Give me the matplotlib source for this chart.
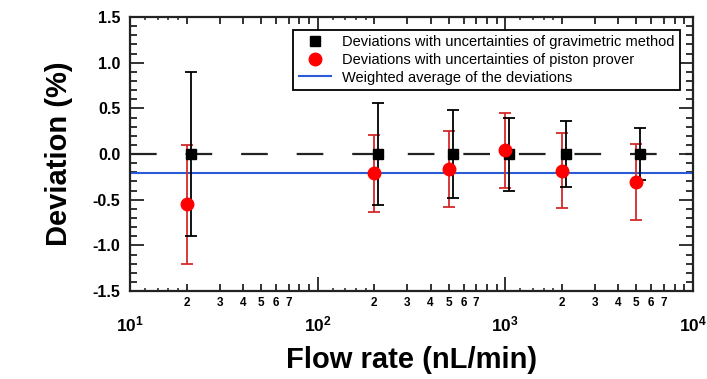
"""
Deviation of flow rate measurements: gravimetric method vs piston prover
"""

import matplotlib
matplotlib.use('Agg')
import matplotlib.pyplot as plt
import matplotlib.ticker as mticker
import numpy as np

plt.rcParams['font.family'] = ['Liberation Sans', 'DejaVu Sans']
plt.rcParams['mathtext.fontset'] = 'custom'
plt.rcParams['mathtext.rm'] = 'Liberation Sans'
plt.rcParams['mathtext.bf'] = 'Liberation Sans:bold'

# data
flow_piston = [20, 200, 500, 1000, 2000, 5000]
dev_piston = [-0.55, -0.21, -0.16, 0.04, -0.18, -0.31]
err_piston = [0.65, 0.42, 0.415, 0.415, 0.41, 0.415]

flow_grav = [21, 210, 525, 1050, 2100, 5250]
dev_grav = [0.0, 0.0, 0.0, 0.0, 0.0, 0.0]
err_grav = [0.9, 0.56, 0.48, 0.40, 0.36, 0.28]

weighted_avg = -0.21

x_range = (10, 1e4)
y_range = (-1.5, 1.5)
minor_labeled = [2, 3, 4, 5, 6, 7]
sub_minor = [1.2, 1.4, 1.6, 1.8]

axes_rect = [0.184, 0.232, 0.796, 0.723]
fig = plt.figure(figsize=(7.07, 3.79), dpi=100)

# overlay axes only for the extra short ticks between 10 and 20 of each decade
ax_sub = fig.add_axes(axes_rect)
ax_sub.set_xscale('log')
ax_sub.set_xlim(*x_range)
ax_sub.set_ylim(*y_range)
sub_pos = [s * 10 ** d for d in range(1, 4) for s in sub_minor]
ax_sub.xaxis.set_major_locator(mticker.FixedLocator(sub_pos))
ax_sub.xaxis.set_minor_locator(mticker.NullLocator())
ax_sub.tick_params(axis='x', which='both', direction='in', top=True, bottom=True,
                   labeltop=False, labelbottom=False, length=2.5, width=1.1,
                   color='#222222')
ax_sub.yaxis.set_visible(False)
ax_sub.patch.set_visible(False)
for sp in ax_sub.spines.values():
    sp.set_visible(False)

ax = fig.add_axes(axes_rect)
ax.patch.set_visible(False)

# reference line at zero
ax.axhline(0, color='#222222', linestyle=(0, (12, 13)), linewidth=1.6, zorder=1)
# weighted average line
avg_line = ax.axhline(weighted_avg, color='#2a5bd7', linewidth=1.5, zorder=2)

# red error bars (piston prover)
ax.errorbar(flow_piston, dev_piston, yerr=err_piston, fmt='none',
            ecolor='#d42a2a', elinewidth=1.3, capsize=4.3, capthick=1.3, zorder=3)
# black error bars and squares (gravimetric)
grav = ax.errorbar(flow_grav, dev_grav, yerr=err_grav, fmt='s', color='black',
                   markersize=7.5, ecolor='black', elinewidth=1.3, capsize=4.3,
                   capthick=1.3, zorder=4)
# red circles on top
piston_pts, = ax.plot(flow_piston, dev_piston, 'o', color='#ff0000',
                      markersize=9, zorder=5)

ax.set_xscale('log')
ax.set_xlim(*x_range)
ax.set_ylim(*y_range)

# x ticks
ax.xaxis.set_major_locator(mticker.LogLocator(base=10, numticks=10))
ax.xaxis.set_major_formatter(mticker.FuncFormatter(
    lambda v, p: r'$\mathbf{10^{%d}}$' % round(np.log10(v))))
ax.xaxis.set_minor_locator(mticker.LogLocator(base=10, subs=np.arange(2, 10), numticks=10))
ax.xaxis.set_minor_formatter(mticker.FuncFormatter(
    lambda v, p: '%d' % round(v / 10 ** np.floor(np.log10(v) + 1e-9))
    if round(v / 10 ** np.floor(np.log10(v) + 1e-9)) in minor_labeled else ''))

# y ticks
ax.yaxis.set_major_locator(mticker.MultipleLocator(0.5))
ax.yaxis.set_minor_locator(mticker.MultipleLocator(0.1))
ax.yaxis.set_major_formatter(mticker.FormatStrFormatter('%.1f'))

ax.tick_params(which='both', direction='in', top=True, bottom=True,
               left=True, right=True, width=1.3, color='#222222')
ax.tick_params(axis='y', which='major', length=10, pad=7, labelsize=11.5)
ax.tick_params(axis='y', which='minor', length=5)
ax.tick_params(axis='x', which='major', length=10, pad=17, labelsize=12.5)
ax.tick_params(axis='x', which='minor', length=5, pad=4, labelsize=8.5)
for lab in ax.get_yticklabels() + ax.get_xticklabels(which='minor'):
    lab.set_fontweight('bold')

for sp in ax.spines.values():
    sp.set_linewidth(1.6)
    sp.set_color('#222222')

ax.set_xlabel('Flow rate (nL/min)', fontsize=21, fontweight='bold', labelpad=8)
ax.set_ylabel('Deviation (%)', fontsize=21, fontweight='bold', labelpad=14)

leg = ax.legend([grav[0], piston_pts, avg_line],
                ['Deviations with uncertainties of gravimetric method',
                 'Deviations with uncertainties of piston prover',
                 'Weighted average of the deviations'],
                loc='upper right', bbox_to_anchor=(0.977, 0.952), fontsize=10.5,
                frameon=True, fancybox=False, framealpha=1, edgecolor='black',
                borderpad=0.35, labelspacing=0.25, handlelength=2.2,
                handletextpad=0.8, borderaxespad=0)
leg.get_frame().set_linewidth(1.3)
leg.set_zorder(10)

fig.savefig('out.png', dpi=100)
